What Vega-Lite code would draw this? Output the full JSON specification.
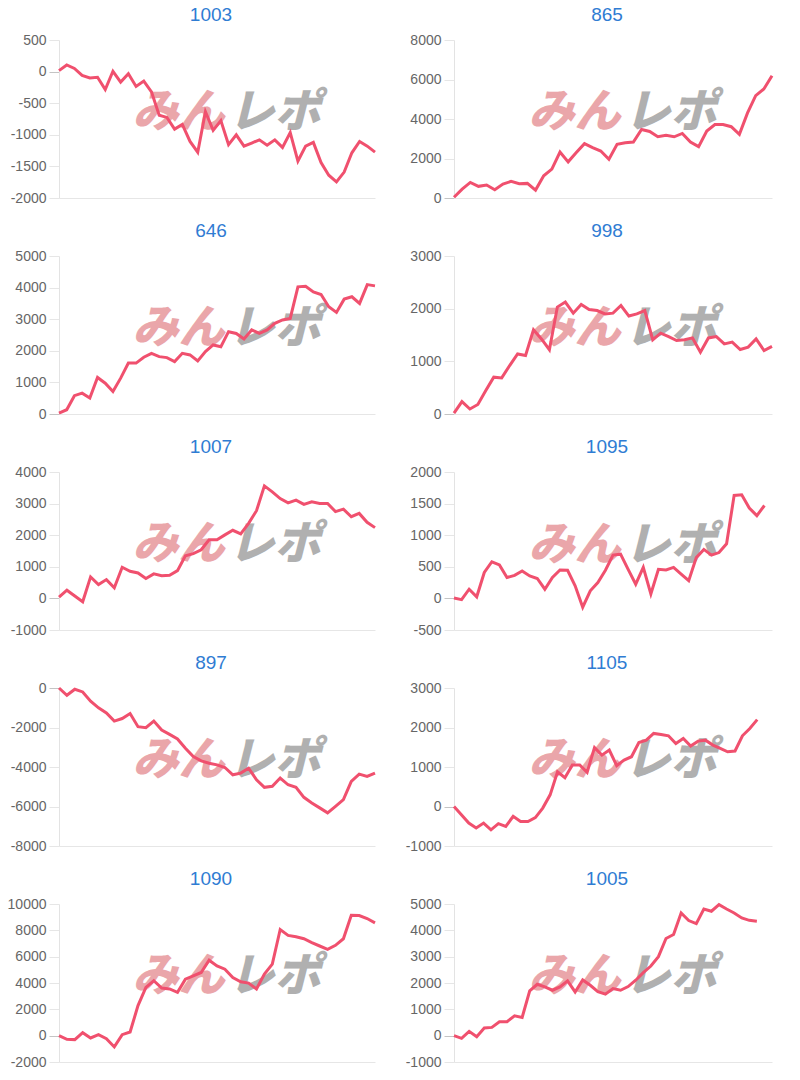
{
  "$schema": "https://vega.github.io/schema/vega-lite/v6.json",
  "background": "white",
  "padding": {"left": 7, "top": 6, "right": 5, "bottom": 2},
  "columns": 2,
  "spacing": {"row": 17, "column": 24},
  "datasets": {
    "c1003": [{"i":1,"v":15},{"i":2,"v":105},{"i":3,"v":50},{"i":4,"v":-60},{"i":5,"v":-100},{"i":6,"v":-90},{"i":7,"v":-285},{"i":8,"v":5},{"i":9,"v":-165},{"i":10,"v":-35},{"i":11,"v":-235},{"i":12,"v":-150},{"i":13,"v":-320},{"i":14,"v":-690},{"i":15,"v":-725},{"i":16,"v":-910},{"i":17,"v":-835},{"i":18,"v":-1105},{"i":19,"v":-1275},{"i":20,"v":-635},{"i":21,"v":-930},{"i":22,"v":-775},{"i":23,"v":-1155},{"i":24,"v":-1000},{"i":25,"v":-1180},{"i":26,"v":-1130},{"i":27,"v":-1080},{"i":28,"v":-1165},{"i":29,"v":-1080},{"i":30,"v":-1200},{"i":31,"v":-965},{"i":32,"v":-1415},{"i":33,"v":-1180},{"i":34,"v":-1120},{"i":35,"v":-1440},{"i":36,"v":-1640},{"i":37,"v":-1745},{"i":38,"v":-1590},{"i":39,"v":-1285},{"i":40,"v":-1105},{"i":41,"v":-1180},{"i":42,"v":-1275}],
    "c865": [{"i":1,"v":35},{"i":2,"v":450},{"i":3,"v":790},{"i":4,"v":590},{"i":5,"v":655},{"i":6,"v":420},{"i":7,"v":705},{"i":8,"v":840},{"i":9,"v":720},{"i":10,"v":740},{"i":11,"v":400},{"i":12,"v":1125},{"i":13,"v":1460},{"i":14,"v":2330},{"i":15,"v":1830},{"i":16,"v":2300},{"i":17,"v":2750},{"i":18,"v":2550},{"i":19,"v":2380},{"i":20,"v":1960},{"i":21,"v":2715},{"i":22,"v":2800},{"i":23,"v":2835},{"i":24,"v":3470},{"i":25,"v":3370},{"i":26,"v":3100},{"i":27,"v":3170},{"i":28,"v":3100},{"i":29,"v":3270},{"i":30,"v":2835},{"i":31,"v":2600},{"i":32,"v":3390},{"i":33,"v":3720},{"i":34,"v":3720},{"i":35,"v":3610},{"i":36,"v":3220},{"i":37,"v":4310},{"i":38,"v":5180},{"i":39,"v":5520},{"i":40,"v":6190}],
    "c646": [{"i":1,"v":30},{"i":2,"v":135},{"i":3,"v":580},{"i":4,"v":660},{"i":5,"v":505},{"i":6,"v":1155},{"i":7,"v":975},{"i":8,"v":715},{"i":9,"v":1135},{"i":10,"v":1610},{"i":11,"v":1610},{"i":12,"v":1795},{"i":13,"v":1920},{"i":14,"v":1815},{"i":15,"v":1785},{"i":16,"v":1660},{"i":17,"v":1920},{"i":18,"v":1870},{"i":19,"v":1680},{"i":20,"v":1975},{"i":21,"v":2185},{"i":22,"v":2130},{"i":23,"v":2605},{"i":24,"v":2550},{"i":25,"v":2375},{"i":26,"v":2660},{"i":27,"v":2550},{"i":28,"v":2660},{"i":29,"v":2870},{"i":30,"v":2975},{"i":31,"v":3025},{"i":32,"v":4025},{"i":33,"v":4045},{"i":34,"v":3865},{"i":35,"v":3780},{"i":36,"v":3395},{"i":37,"v":3215},{"i":38,"v":3635},{"i":39,"v":3710},{"i":40,"v":3500},{"i":41,"v":4095},{"i":42,"v":4055}],
    "c998": [{"i":1,"v":15},{"i":2,"v":235},{"i":3,"v":95},{"i":4,"v":180},{"i":5,"v":445},{"i":6,"v":700},{"i":7,"v":685},{"i":8,"v":920},{"i":9,"v":1140},{"i":10,"v":1110},{"i":11,"v":1600},{"i":12,"v":1425},{"i":13,"v":1220},{"i":14,"v":2030},{"i":15,"v":2125},{"i":16,"v":1915},{"i":17,"v":2080},{"i":18,"v":1985},{"i":19,"v":1965},{"i":20,"v":1900},{"i":21,"v":1915},{"i":22,"v":2060},{"i":23,"v":1860},{"i":24,"v":1900},{"i":25,"v":1965},{"i":26,"v":1410},{"i":27,"v":1535},{"i":28,"v":1470},{"i":29,"v":1395},{"i":30,"v":1410},{"i":31,"v":1445},{"i":32,"v":1175},{"i":33,"v":1445},{"i":34,"v":1470},{"i":35,"v":1330},{"i":36,"v":1365},{"i":37,"v":1225},{"i":38,"v":1270},{"i":39,"v":1425},{"i":40,"v":1205},{"i":41,"v":1285}],
    "c1007": [{"i":1,"v":40},{"i":2,"v":260},{"i":3,"v":75},{"i":4,"v":-105},{"i":5,"v":680},{"i":6,"v":440},{"i":7,"v":595},{"i":8,"v":335},{"i":9,"v":985},{"i":10,"v":860},{"i":11,"v":805},{"i":12,"v":630},{"i":13,"v":775},{"i":14,"v":720},{"i":15,"v":735},{"i":16,"v":880},{"i":17,"v":1350},{"i":18,"v":1415},{"i":19,"v":1540},{"i":20,"v":1855},{"i":21,"v":1855},{"i":22,"v":2010},{"i":23,"v":2155},{"i":24,"v":2040},{"i":25,"v":2375},{"i":26,"v":2775},{"i":27,"v":3560},{"i":28,"v":3370},{"i":29,"v":3160},{"i":30,"v":3025},{"i":31,"v":3110},{"i":32,"v":2975},{"i":33,"v":3055},{"i":34,"v":3005},{"i":35,"v":3005},{"i":36,"v":2745},{"i":37,"v":2825},{"i":38,"v":2585},{"i":39,"v":2690},{"i":40,"v":2410},{"i":41,"v":2240}],
    "c1095": [{"i":1,"v":5},{"i":2,"v":-20},{"i":3,"v":145},{"i":4,"v":25},{"i":5,"v":410},{"i":6,"v":580},{"i":7,"v":530},{"i":8,"v":330},{"i":9,"v":365},{"i":10,"v":435},{"i":11,"v":355},{"i":12,"v":315},{"i":13,"v":145},{"i":14,"v":330},{"i":15,"v":450},{"i":16,"v":445},{"i":17,"v":200},{"i":18,"v":-140},{"i":19,"v":120},{"i":20,"v":250},{"i":21,"v":445},{"i":22,"v":685},{"i":23,"v":700},{"i":24,"v":460},{"i":25,"v":225},{"i":26,"v":490},{"i":27,"v":70},{"i":28,"v":460},{"i":29,"v":450},{"i":30,"v":490},{"i":31,"v":385},{"i":32,"v":280},{"i":33,"v":645},{"i":34,"v":775},{"i":35,"v":685},{"i":36,"v":725},{"i":37,"v":865},{"i":38,"v":1630},{"i":39,"v":1640},{"i":40,"v":1430},{"i":41,"v":1310},{"i":42,"v":1470}],
    "c897": [{"i":1,"v":0},{"i":2,"v":-370},{"i":3,"v":-65},{"i":4,"v":-200},{"i":5,"v":-670},{"i":6,"v":-1005},{"i":7,"v":-1260},{"i":8,"v":-1675},{"i":9,"v":-1545},{"i":10,"v":-1290},{"i":11,"v":-1960},{"i":12,"v":-2010},{"i":13,"v":-1675},{"i":14,"v":-2130},{"i":15,"v":-2350},{"i":16,"v":-2580},{"i":17,"v":-3050},{"i":18,"v":-3470},{"i":19,"v":-3690},{"i":20,"v":-3810},{"i":21,"v":-3890},{"i":22,"v":-4025},{"i":23,"v":-4395},{"i":24,"v":-4310},{"i":25,"v":-4060},{"i":26,"v":-4645},{"i":27,"v":-5030},{"i":28,"v":-4980},{"i":29,"v":-4560},{"i":30,"v":-4900},{"i":31,"v":-5030},{"i":32,"v":-5535},{"i":33,"v":-5820},{"i":34,"v":-6070},{"i":35,"v":-6320},{"i":36,"v":-5990},{"i":37,"v":-5650},{"i":38,"v":-4730},{"i":39,"v":-4360},{"i":40,"v":-4480},{"i":41,"v":-4310}],
    "c1105": [{"i":1,"v":0},{"i":2,"v":-210},{"i":3,"v":-420},{"i":4,"v":-545},{"i":5,"v":-420},{"i":6,"v":-590},{"i":7,"v":-435},{"i":8,"v":-505},{"i":9,"v":-250},{"i":10,"v":-380},{"i":11,"v":-380},{"i":12,"v":-280},{"i":13,"v":-40},{"i":14,"v":295},{"i":15,"v":880},{"i":16,"v":730},{"i":17,"v":1050},{"i":18,"v":1050},{"i":19,"v":865},{"i":20,"v":1490},{"i":21,"v":1300},{"i":22,"v":1430},{"i":23,"v":1035},{"i":24,"v":1175},{"i":25,"v":1260},{"i":26,"v":1620},{"i":27,"v":1680},{"i":28,"v":1850},{"i":29,"v":1825},{"i":30,"v":1790},{"i":31,"v":1595},{"i":32,"v":1720},{"i":33,"v":1530},{"i":34,"v":1655},{"i":35,"v":1680},{"i":36,"v":1555},{"i":37,"v":1470},{"i":38,"v":1385},{"i":39,"v":1405},{"i":40,"v":1790},{"i":41,"v":1975},{"i":42,"v":2200}],
    "c1090": [{"i":1,"v":0},{"i":2,"v":-275},{"i":3,"v":-300},{"i":4,"v":225},{"i":5,"v":-175},{"i":6,"v":75},{"i":7,"v":-225},{"i":8,"v":-855},{"i":9,"v":75},{"i":10,"v":275},{"i":11,"v":2285},{"i":12,"v":3670},{"i":13,"v":4170},{"i":14,"v":3620},{"i":15,"v":3545},{"i":16,"v":3290},{"i":17,"v":4295},{"i":18,"v":4550},{"i":19,"v":4800},{"i":20,"v":5730},{"i":21,"v":5300},{"i":22,"v":5050},{"i":23,"v":4420},{"i":24,"v":4095},{"i":25,"v":3995},{"i":26,"v":3545},{"i":27,"v":4675},{"i":28,"v":5430},{"i":29,"v":8065},{"i":30,"v":7615},{"i":31,"v":7515},{"i":32,"v":7360},{"i":33,"v":7060},{"i":34,"v":6810},{"i":35,"v":6560},{"i":36,"v":6860},{"i":37,"v":7360},{"i":38,"v":9145},{"i":39,"v":9120},{"i":40,"v":8895},{"i":41,"v":8570}],
    "c1005": [{"i":1,"v":0},{"i":2,"v":-100},{"i":3,"v":165},{"i":4,"v":-40},{"i":5,"v":290},{"i":6,"v":315},{"i":7,"v":530},{"i":8,"v":530},{"i":9,"v":755},{"i":10,"v":690},{"i":11,"v":1700},{"i":12,"v":1950},{"i":13,"v":1850},{"i":14,"v":1725},{"i":15,"v":1850},{"i":16,"v":2080},{"i":17,"v":1660},{"i":18,"v":2115},{"i":19,"v":1915},{"i":20,"v":1675},{"i":21,"v":1575},{"i":22,"v":1790},{"i":23,"v":1725},{"i":24,"v":1865},{"i":25,"v":2105},{"i":26,"v":2395},{"i":27,"v":2645},{"i":28,"v":3000},{"i":29,"v":3690},{"i":30,"v":3840},{"i":31,"v":4660},{"i":32,"v":4370},{"i":33,"v":4255},{"i":34,"v":4810},{"i":35,"v":4725},{"i":36,"v":4975},{"i":37,"v":4810},{"i":38,"v":4660},{"i":39,"v":4470},{"i":40,"v":4380},{"i":41,"v":4345}],
    "wmA": [{"w": "みん"}],
    "wmB": [{"w": "レポ"}]
  },
  "concat": [
    {"title": "1003", "data": {"name": "c1003"}, "width": 316, "height": 158,
     "layer": [
       {"data": {"name": "wmA"}, "mark": {"type": "text", "style": "wmA"}, "encoding": {"text": {"field": "w"}, "x": {"datum": 22.73, "type": "quantitative"}, "y": {"datum": -662, "type": "quantitative"}}},
       {"data": {"name": "wmB"}, "mark": {"type": "text", "style": "wmB"}, "encoding": {"text": {"field": "w"}, "x": {"datum": 22.73, "type": "quantitative"}, "y": {"datum": -662, "type": "quantitative"}}},
       {"mark": {"type": "line"}, "encoding": {"x": {"field": "i", "type": "quantitative"}, "y": {"field": "v", "type": "quantitative"}}}
     ],
     "encoding": {"x": {"type": "quantitative", "title": null, "scale": {"domain": [1, 42], "nice": false, "zero": false}},
                  "y": {"type": "quantitative", "title": null, "scale": {"domain": [-2000, 500], "nice": false, "zero": false}, "axis": {"values": [-2000, -1500, -1000, -500, 0, 500]}}}},
    {"title": "865", "data": {"name": "c865"}, "width": 318, "height": 158,
     "layer": [
       {"data": {"name": "wmA"}, "mark": {"type": "text", "style": "wmA"}, "encoding": {"text": {"field": "w"}, "x": {"datum": 21.67, "type": "quantitative"}, "y": {"datum": 4280, "type": "quantitative"}}},
       {"data": {"name": "wmB"}, "mark": {"type": "text", "style": "wmB"}, "encoding": {"text": {"field": "w"}, "x": {"datum": 21.67, "type": "quantitative"}, "y": {"datum": 4280, "type": "quantitative"}}},
       {"mark": {"type": "line"}, "encoding": {"x": {"field": "i", "type": "quantitative"}, "y": {"field": "v", "type": "quantitative"}}}
     ],
     "encoding": {"x": {"type": "quantitative", "title": null, "scale": {"domain": [1, 40], "nice": false, "zero": false}},
                  "y": {"type": "quantitative", "title": null, "scale": {"domain": [0, 8000], "nice": false, "zero": false}, "axis": {"values": [0, 2000, 4000, 6000, 8000]}}}},
    {"title": "646", "data": {"name": "c646"}, "width": 316, "height": 158,
     "layer": [
       {"data": {"name": "wmA"}, "mark": {"type": "text", "style": "wmA"}, "encoding": {"text": {"field": "w"}, "x": {"datum": 22.73, "type": "quantitative"}, "y": {"datum": 2675, "type": "quantitative"}}},
       {"data": {"name": "wmB"}, "mark": {"type": "text", "style": "wmB"}, "encoding": {"text": {"field": "w"}, "x": {"datum": 22.73, "type": "quantitative"}, "y": {"datum": 2675, "type": "quantitative"}}},
       {"mark": {"type": "line"}, "encoding": {"x": {"field": "i", "type": "quantitative"}, "y": {"field": "v", "type": "quantitative"}}}
     ],
     "encoding": {"x": {"type": "quantitative", "title": null, "scale": {"domain": [1, 42], "nice": false, "zero": false}},
                  "y": {"type": "quantitative", "title": null, "scale": {"domain": [0, 5000], "nice": false, "zero": false}, "axis": {"values": [0, 1000, 2000, 3000, 4000, 5000]}}}},
    {"title": "998", "data": {"name": "c998"}, "width": 318, "height": 158,
     "layer": [
       {"data": {"name": "wmA"}, "mark": {"type": "text", "style": "wmA"}, "encoding": {"text": {"field": "w"}, "x": {"datum": 22.2, "type": "quantitative"}, "y": {"datum": 1605, "type": "quantitative"}}},
       {"data": {"name": "wmB"}, "mark": {"type": "text", "style": "wmB"}, "encoding": {"text": {"field": "w"}, "x": {"datum": 22.2, "type": "quantitative"}, "y": {"datum": 1605, "type": "quantitative"}}},
       {"mark": {"type": "line"}, "encoding": {"x": {"field": "i", "type": "quantitative"}, "y": {"field": "v", "type": "quantitative"}}}
     ],
     "encoding": {"x": {"type": "quantitative", "title": null, "scale": {"domain": [1, 41], "nice": false, "zero": false}},
                  "y": {"type": "quantitative", "title": null, "scale": {"domain": [0, 3000], "nice": false, "zero": false}, "axis": {"values": [0, 1000, 2000, 3000]}}}},
    {"title": "1007", "data": {"name": "c1007"}, "width": 316, "height": 158,
     "layer": [
       {"data": {"name": "wmA"}, "mark": {"type": "text", "style": "wmA"}, "encoding": {"text": {"field": "w"}, "x": {"datum": 22.2, "type": "quantitative"}, "y": {"datum": 1675, "type": "quantitative"}}},
       {"data": {"name": "wmB"}, "mark": {"type": "text", "style": "wmB"}, "encoding": {"text": {"field": "w"}, "x": {"datum": 22.2, "type": "quantitative"}, "y": {"datum": 1675, "type": "quantitative"}}},
       {"mark": {"type": "line"}, "encoding": {"x": {"field": "i", "type": "quantitative"}, "y": {"field": "v", "type": "quantitative"}}}
     ],
     "encoding": {"x": {"type": "quantitative", "title": null, "scale": {"domain": [1, 41], "nice": false, "zero": false}},
                  "y": {"type": "quantitative", "title": null, "scale": {"domain": [-1000, 4000], "nice": false, "zero": false}, "axis": {"values": [-1000, 0, 1000, 2000, 3000, 4000]}}}},
    {"title": "1095", "data": {"name": "c1095"}, "width": 318, "height": 158,
     "layer": [
       {"data": {"name": "wmA"}, "mark": {"type": "text", "style": "wmA"}, "encoding": {"text": {"field": "w"}, "x": {"datum": 23.26, "type": "quantitative"}, "y": {"datum": 837, "type": "quantitative"}}},
       {"data": {"name": "wmB"}, "mark": {"type": "text", "style": "wmB"}, "encoding": {"text": {"field": "w"}, "x": {"datum": 23.26, "type": "quantitative"}, "y": {"datum": 837, "type": "quantitative"}}},
       {"mark": {"type": "line"}, "encoding": {"x": {"field": "i", "type": "quantitative"}, "y": {"field": "v", "type": "quantitative"}}}
     ],
     "encoding": {"x": {"type": "quantitative", "title": null, "scale": {"domain": [1, 43], "nice": false, "zero": false}},
                  "y": {"type": "quantitative", "title": null, "scale": {"domain": [-500, 2000], "nice": false, "zero": false}, "axis": {"values": [-500, 0, 500, 1000, 1500, 2000]}}}},
    {"title": "897", "data": {"name": "c897"}, "width": 316, "height": 158,
     "layer": [
       {"data": {"name": "wmA"}, "mark": {"type": "text", "style": "wmA"}, "encoding": {"text": {"field": "w"}, "x": {"datum": 22.2, "type": "quantitative"}, "y": {"datum": -3720, "type": "quantitative"}}},
       {"data": {"name": "wmB"}, "mark": {"type": "text", "style": "wmB"}, "encoding": {"text": {"field": "w"}, "x": {"datum": 22.2, "type": "quantitative"}, "y": {"datum": -3720, "type": "quantitative"}}},
       {"mark": {"type": "line"}, "encoding": {"x": {"field": "i", "type": "quantitative"}, "y": {"field": "v", "type": "quantitative"}}}
     ],
     "encoding": {"x": {"type": "quantitative", "title": null, "scale": {"domain": [1, 41], "nice": false, "zero": false}},
                  "y": {"type": "quantitative", "title": null, "scale": {"domain": [-8000, 0], "nice": false, "zero": false}, "axis": {"values": [-8000, -6000, -4000, -2000, 0]}}}},
    {"title": "1105", "data": {"name": "c1105"}, "width": 318, "height": 158,
     "layer": [
       {"data": {"name": "wmA"}, "mark": {"type": "text", "style": "wmA"}, "encoding": {"text": {"field": "w"}, "x": {"datum": 23.79, "type": "quantitative"}, "y": {"datum": 1140, "type": "quantitative"}}},
       {"data": {"name": "wmB"}, "mark": {"type": "text", "style": "wmB"}, "encoding": {"text": {"field": "w"}, "x": {"datum": 23.79, "type": "quantitative"}, "y": {"datum": 1140, "type": "quantitative"}}},
       {"mark": {"type": "line"}, "encoding": {"x": {"field": "i", "type": "quantitative"}, "y": {"field": "v", "type": "quantitative"}}}
     ],
     "encoding": {"x": {"type": "quantitative", "title": null, "scale": {"domain": [1, 44], "nice": false, "zero": false}},
                  "y": {"type": "quantitative", "title": null, "scale": {"domain": [-1000, 3000], "nice": false, "zero": false}, "axis": {"values": [-1000, 0, 1000, 2000, 3000]}}}},
    {"title": "1090", "data": {"name": "c1090"}, "width": 316, "height": 158,
     "layer": [
       {"data": {"name": "wmA"}, "mark": {"type": "text", "style": "wmA"}, "encoding": {"text": {"field": "w"}, "x": {"datum": 22.2, "type": "quantitative"}, "y": {"datum": 4420, "type": "quantitative"}}},
       {"data": {"name": "wmB"}, "mark": {"type": "text", "style": "wmB"}, "encoding": {"text": {"field": "w"}, "x": {"datum": 22.2, "type": "quantitative"}, "y": {"datum": 4420, "type": "quantitative"}}},
       {"mark": {"type": "line"}, "encoding": {"x": {"field": "i", "type": "quantitative"}, "y": {"field": "v", "type": "quantitative"}}}
     ],
     "encoding": {"x": {"type": "quantitative", "title": null, "scale": {"domain": [1, 41], "nice": false, "zero": false}},
                  "y": {"type": "quantitative", "title": null, "scale": {"domain": [-2000, 10000], "nice": false, "zero": false}, "axis": {"values": [-2000, 0, 2000, 4000, 6000, 8000, 10000]}}}},
    {"title": "1005", "data": {"name": "c1005"}, "width": 318, "height": 158,
     "layer": [
       {"data": {"name": "wmA"}, "mark": {"type": "text", "style": "wmA"}, "encoding": {"text": {"field": "w"}, "x": {"datum": 23.26, "type": "quantitative"}, "y": {"datum": 2210, "type": "quantitative"}}},
       {"data": {"name": "wmB"}, "mark": {"type": "text", "style": "wmB"}, "encoding": {"text": {"field": "w"}, "x": {"datum": 23.26, "type": "quantitative"}, "y": {"datum": 2210, "type": "quantitative"}}},
       {"mark": {"type": "line"}, "encoding": {"x": {"field": "i", "type": "quantitative"}, "y": {"field": "v", "type": "quantitative"}}}
     ],
     "encoding": {"x": {"type": "quantitative", "title": null, "scale": {"domain": [1, 43], "nice": false, "zero": false}},
                  "y": {"type": "quantitative", "title": null, "scale": {"domain": [-1000, 5000], "nice": false, "zero": false}, "axis": {"values": [-1000, 0, 1000, 2000, 3000, 4000, 5000]}}}}
  ],
  "config": {
    "view": {"stroke": null},
    "font": "Liberation Sans",
    "line": {"color": "#f0506e", "strokeWidth": 3},
    "style": {
      "wmA": {"font": "Noto Sans CJK JP", "fontWeight": 900, "fontStyle": "italic", "fontSize": 46, "color": "#eaa6aa", "align": "right", "baseline": "middle", "dx": -2},
      "wmB": {"font": "Noto Sans CJK JP", "fontWeight": 900, "fontStyle": "italic", "fontSize": 46, "color": "#b0b0b0", "align": "left", "baseline": "middle", "dx": 2}
    },
    "title": {"font": "Liberation Sans", "fontSize": 19, "fontWeight": "normal", "color": "#2f7cd3", "anchor": "middle", "frame": "group", "baseline": "alphabetic", "offset": 8, "dx": -6},
    "axisX": {"labels": false, "ticks": false, "grid": false, "domain": true, "domainColor": "#e6e6e6", "domainWidth": 1},
    "axisY": {"labelFont": "Liberation Sans", "labelFontSize": 14, "labelColor": "#666666", "labelPadding": 3, "tickSize": 10,
              "labelExpr": "toString(datum.value)",
              "gridColor": {"condition": {"test": "datum.value === 0", "value": "#c4c4c4"}, "value": "#e6e6e6"},
              "tickColor": {"condition": {"test": "datum.value === 0", "value": "#c4c4c4"}, "value": "#e6e6e6"},
              "domainColor": "#e3e3e3"}
  }
}
